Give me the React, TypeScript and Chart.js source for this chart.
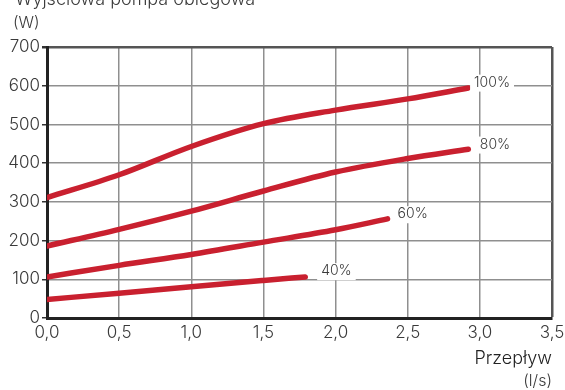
import React, { useEffect, useRef } from "react";
import { Chart, registerables } from "chart.js";

Chart.register(...registerables);

const TITLE = "Wyjściowa pompa obiegowa";
const Y_UNIT = "(W)";
const X_TITLE = "Przepływ";
const X_UNIT = "(l/s)";

const SERIES_NAMES = ["100%", "80%", "60%", "40%"];

const FLOW_100 = [0, 0.5, 1.0, 1.5, 2.0, 2.5, 2.92];
const POWER_100 = [311, 370, 443, 502, 537, 566, 594];

const FLOW_80 = [0, 0.5, 1.0, 1.5, 2.0, 2.5, 2.92];
const POWER_80 = [186, 229, 276, 328, 377, 412, 436];

const FLOW_60 = [0, 0.5, 1.0, 1.5, 2.0, 2.36];
const POWER_60 = [106, 136, 164, 196, 228, 256];

const FLOW_40 = [0, 0.5, 1.0, 1.5, 1.79];
const POWER_40 = [48, 64, 81, 97, 106];

// label anchors (data coordinates): left edge x, vertical centre y
const LABEL_X = [2.96, 3.0, 2.43, 1.9];
const LABEL_Y = [608, 448, 268, 121];

const X_TICKS = ["0,0", "0,5", "1,0", "1,5", "2,0", "2,5", "3,0", "3,5"];
const Y_TICKS = ["0", "100", "200", "300", "400", "500", "600", "700"];

const FONT = "Inter, 'DejaVu Sans', sans-serif";
const TEXT = "#3a3a3a";
const RED = "#c9202f";

const toPts = (xs: number[], ys: number[]) => xs.map((x, i) => ({ x, y: ys[i] }));

export default function App() {
  const ref = useRef<HTMLCanvasElement | null>(null);

  useEffect(() => {
    if (!ref.current) return;
    const series = [
      toPts(FLOW_100, POWER_100),
      toPts(FLOW_80, POWER_80),
      toPts(FLOW_60, POWER_60),
      toPts(FLOW_40, POWER_40),
    ];

    const textPlugin = {
      id: "texts",
      afterDatasetsDraw(chart: any) {
        const ctx = chart.ctx;
        const xs = chart.scales.x;
        const ys = chart.scales.y;
        ctx.save();
        ctx.font = `300 14px ${FONT}`;
        ctx.textBaseline = "middle";
        ctx.textAlign = "left";
        SERIES_NAMES.forEach((name, i) => {
          const px = xs.getPixelForValue(LABEL_X[i]);
          const py = ys.getPixelForValue(LABEL_Y[i]);
          const w = ctx.measureText(name).width;
          ctx.fillStyle = "#ffffff";
          ctx.fillRect(px - 4, py - 8, w + 8, 17);
          ctx.fillStyle = TEXT;
          ctx.fillText(name, px, py);
        });
        ctx.restore();
      },
      afterDraw(chart: any) {
        const ctx = chart.ctx;
        ctx.save();
        ctx.fillStyle = TEXT;
        ctx.font = `300 18px ${FONT}`;
        ctx.textAlign = "left";
        ctx.textBaseline = "alphabetic";
        ctx.fillText(TITLE, 15, 5);
        ctx.font = `300 16px ${FONT}`;
        ctx.textBaseline = "middle";
        ctx.fillText(Y_UNIT, 13, 23);
        ctx.textAlign = "right";
        ctx.font = `300 18px ${FONT}`;
        ctx.fillStyle = "#222222";
        ctx.fillText(X_TITLE, 552, 359);
        ctx.fillStyle = TEXT;
        ctx.font = `300 16px ${FONT}`;
        ctx.fillText(X_UNIT, 552, 381);
        ctx.restore();
      },
    };

    const chart = new Chart(ref.current, {
      type: "line",
      data: {
        datasets: series.map((d, i) => ({
          label: SERIES_NAMES[i],
          data: d,
          borderColor: RED,
          backgroundColor: RED,
          borderWidth: 5.5,
          borderCapStyle: "round" as const,
          pointRadius: 0,
          cubicInterpolationMode: "monotone" as const,
          fill: false,
        })),
      },
      options: {
        responsive: false,
        animation: false,
        layout: { padding: { top: 47, right: 13, left: 0, bottom: 0 } },
        plugins: {
          legend: { display: false },
          tooltip: { enabled: false },
          title: { display: false },
        },
        scales: {
          x: {
            type: "linear",
            min: 0,
            max: 3.5,
            afterFit: (s: any) => {
              s.height = 72;
              s.paddingLeft = 0;
              s.paddingRight = 0;
            },
            ticks: {
              stepSize: 0.5,
              color: TEXT,
              font: { family: FONT, size: 17, weight: "300" },
              padding: 5,
              maxRotation: 0,
              callback: (_v: any, i: number) => X_TICKS[i],
            },
            grid: {
              color: (c: any) => (c.index === 7 ? "#555555" : "#8f8f8f"),
              lineWidth: (c: any) => (c.index === 7 ? 2.5 : 1.5),
              drawTicks: false,
            },
            border: { color: "#222222", width: 3 },
          },
          y: {
            min: 0,
            max: 700,
            afterFit: (s: any) => {
              s.width = 47;
              s.paddingTop = 0;
              s.paddingBottom = 0;
            },
            ticks: {
              stepSize: 100,
              color: TEXT,
              font: { family: FONT, size: 17, weight: "300" },
              padding: 2,
              callback: (_v: any, i: number) => Y_TICKS[i],
            },
            grid: {
              color: (c: any) => (c.index === 7 ? "#555555" : "#8f8f8f"),
              lineWidth: (c: any) => (c.index === 7 ? 2.5 : 1.5),
              tickLength: 5,
              tickColor: "#333333",
            },
            border: { color: "#222222", width: 3 },
          },
        },
      },
      plugins: [textPlugin],
    } as any);

    return () => chart.destroy();
  }, []);

  return (
    <div style={{ position: "fixed", left: 0, top: 0, width: 565, height: 390, background: "#fff" }}>
      <canvas ref={ref} width={565} height={390} style={{ display: "block", width: 565, height: 390 }} />
    </div>
  );
}
